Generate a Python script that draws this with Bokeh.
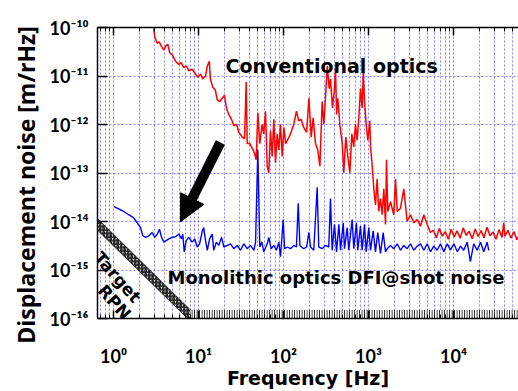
from bokeh.plotting import figure
from bokeh.models import Range1d, FixedTicker, LogAxis, Label, Arrow, NormalHead
from bokeh.embed import file_html
from bokeh.resources import INLINE

# ---------------- data ----------------
x_ticks = [1, 10, 100, 1000, 10000]
x_tick_labels = ["10⁰", "10¹", "10²", "10³", "10⁴"]
y_ticks = [1e-16, 1e-15, 1e-14, 1e-13, 1e-12, 1e-11, 1e-10]
y_tick_labels = ["10⁻¹⁶", "10⁻¹⁵", "10⁻¹⁴", "10⁻¹³", "10⁻¹²", "10⁻¹¹", "10⁻¹⁰"]

# Conventional optics (red)
red_f = [2.96, 3.06, 3.27, 3.45, 3.67, 3.91, 4.12, 4.35, 4.59, 4.91,
         5.36, 5.87, 6.25, 6.71, 7.22, 7.69, 8.43, 9.22, 9.82, 10.6,
         11.2, 12.1, 12.7, 13.4, 13.8, 14.7, 15.8, 16.6, 17.8, 19.0,
         20.2, 21.3, 22.7, 24.4, 26.0, 28.0, 29.8, 32.7, 34.8, 36.4,
         37.4, 40.2, 42.9, 45.6, 47.7, 49.9, 52.6, 56.1, 58.6, 61.4,
         64.3, 67.1, 70.3, 73.6, 76.9, 80.5, 84.3, 88.1, 92.2, 96.6,
         101, 106, 111, 121, 132, 142, 151, 161, 173, 187,
         199, 212, 223, 238, 253, 268, 285, 298, 315, 327,
         345, 357, 377, 398, 409, 421, 436, 460, 491, 512,
         541, 571, 603, 637, 671, 703, 736, 769, 805, 843,
         867, 898, 946, 982, 1035, 1056, 1107, 1154, 1208, 1265,
         1321, 1384, 1449, 1514, 1585, 1629, 1687, 1815, 1985, 2080,
         2178, 2378, 2600, 2851, 3119, 3412, 3741, 4093, 4477, 4909, 5358,
         5.8e3, 6.3e3, 6.8e3, 7.4e3, 8.0e3, 8.7e3, 9.4e3, 1.02e4, 1.1e4, 1.2e4,
         1.3e4, 1.41e4, 1.53e4, 1.66e4, 1.8e4, 1.95e4, 2.11e4, 2.29e4, 2.48e4, 2.69e4,
         2.92e4, 3.16e4, 3.43e4, 3.72e4, 3.9e4, 4.03e4, 4.37e4, 4.74e4, 5.14e4, 5.57e4,
         6.0e4]
red_v = [9.55e-11, 6.4e-11, 4.72e-11, 5.08e-11, 4.04e-11, 3.47e-11, 4.17e-11, 4.51e-11, 2.98e-11, 2.75e-11,
         2.02e-11, 1.74e-11, 1.88e-11, 1.49e-11, 1.61e-11, 1.28e-11, 1.38e-11, 1.10e-11, 9.42e-12, 1.10e-11,
         8.71e-12, 1.01e-11, 1.61e-11, 2.02e-11, 8.71e-12, 5.94e-12, 5.08e-12, 3.21e-12, 2.98e-12, 3.47e-12,
         4.04e-12, 2.19e-12, 1.61e-12, 1.28e-12, 9.42e-13, 1.01e-12, 6.92e-13, 5.5e-13, 5.08e-13, 7.48e-12,
         4.04e-13, 4.04e-13, 3.21e-13, 2.55e-13, 1.88e-13, 1.74e-12, 4.04e-13, 1.01e-12, 6.4e-13, 1.88e-12,
         1.38e-13, 1.01e-13, 7.48e-13, 2.19e-13, 1.28e-12, 1.61e-13, 6.4e-13, 2.98e-13, 1.01e-12, 2.19e-13,
         8.71e-13, 4.04e-13, 4.72e-13, 6.4e-13, 1.01e-12, 1.88e-12, 1.19e-12, 1.28e-12, 8.71e-13, 6.92e-13,
         3.47e-12, 5.5e-13, 1.38e-12, 4.04e-13, 2.98e-13, 1.38e-13, 2.98e-12, 1.01e-12, 4.72e-12, 1.61e-11,
         5.5e-12, 8.71e-12, 2.19e-12, 5.5e-12, 1.49e-11, 1.61e-12, 3.47e-12, 1.01e-12, 4.04e-13, 1.01e-13,
         5.5e-13, 2.19e-13, 1.01e-13, 6.4e-13, 3.47e-13, 1.01e-12, 4.72e-13, 1.38e-12, 5.5e-12, 2.19e-12,
         1.19e-11, 2.98e-12, 8.71e-13, 4.72e-13, 1.19e-12, 3.47e-13, 1.38e-13, 4.72e-14, 2.19e-14, 7.48e-14,
         1.61e-14, 2.98e-14, 1.38e-14, 4.72e-14, 8.71e-15, 1.88e-13, 1.61e-14, 2.55e-14, 1.38e-14, 7.48e-14,
         1.61e-14, 1.88e-14, 4.72e-14, 1.01e-14, 1.38e-14, 9.42e-15, 1.10e-14, 8.05e-15, 1.38e-14, 8.71e-15, 5.94e-15,
         6.6e-15, 4.6e-15, 7.2e-15, 5.0e-15, 6.2e-15, 4.3e-15, 6.9e-15, 4.8e-15, 6.4e-15, 4.5e-15,
         7.4e-15, 5.2e-15, 6.3e-15, 4.4e-15, 7.0e-15, 4.9e-15, 6.5e-15, 4.6e-15, 7.6e-15, 5.1e-15,
         6.1e-15, 4.3e-15, 6.8e-15, 4.7e-15, 9.4e-15, 5.0e-15, 6.6e-15, 4.5e-15, 6.2e-15, 4.2e-15,
         5.6e-15]

# Monolithic optics DFI @ shot noise (blue)
blue_f = [1.01, 1.15, 1.32, 1.51, 1.73, 1.90, 2.08, 2.21, 2.38, 2.60,
          2.85, 3.06, 3.27, 3.48, 3.67, 3.91, 4.17, 4.47, 4.91, 5.36,
          5.87, 6.31, 6.53, 6.79, 7.17, 7.69, 8.43, 9.04, 9.66, 10.3,
          11.1, 11.5, 12.1, 12.7, 13.5, 14.5, 15.1, 16.2, 17.3, 18.7,
          19.9, 21.8, 23.8, 26.0, 28.5, 31.2, 34.1, 37.4, 40.9, 44.8,
          46.9, 49.9, 52.6, 55.6, 58.6, 64.3, 67.1, 71.6, 76.9, 82.7,
          88.1, 92.2, 99.2, 103, 111, 121, 132, 142, 149, 156,
          173, 187, 199, 208, 227, 249, 260, 285, 312, 341,
          357, 374, 398, 421, 448, 469, 504, 522, 561, 586,
          643, 671, 722, 748, 805, 843, 898, 939, 1009, 1056,
          1135, 1208, 1285, 1384, 1489, 1585, 1660, 1815, 1985, 2178,
          2378, 2600, 2851, 3119, 3412, 3741, 4093, 4477, 4909, 5358,
          5861, 6427, 7031, 7691, 8433, 9220, 1.01e4, 1.11e4, 1.21e4, 1.32e4,
          1.45e4, 1.58e4, 1.73e4, 1.90e4, 2.08e4, 2.27e4, 2.49e4, 2.60e4]
blue_v = [2.02e-14, 1.82e-14, 1.61e-14, 1.38e-14, 1.19e-14, 9.42e-15, 7.48e-15, 5.08e-15, 4.72e-15, 5.08e-15,
          5.94e-15, 4.72e-15, 5.5e-15, 6.92e-15, 4.72e-15, 3.75e-15, 4.04e-15, 4.37e-15, 4.72e-15, 4.85e-15,
          5.5e-15, 4.37e-15, 5.5e-15, 2.37e-15, 4.04e-15, 4.72e-15, 3.75e-15, 4.37e-15, 2.98e-15, 3.47e-15,
          6.4e-15, 7.48e-15, 4.04e-15, 2.55e-15, 4.37e-15, 5.5e-15, 2.55e-15, 3.75e-15, 3.21e-15, 4.72e-15,
          2.98e-15, 3.21e-15, 3.47e-15, 2.75e-15, 3.21e-15, 2.55e-15, 3.47e-15, 2.75e-15, 3.21e-15, 2.55e-15,
          3.75e-15, 2.98e-13, 2.98e-15, 3.8e-15, 2.37e-15, 3.47e-15, 4.72e-15, 2.75e-15, 3.21e-15, 2.55e-15,
          3.75e-15, 1.88e-15, 1.10e-14, 2.75e-15, 2.98e-15, 2.75e-15, 3.21e-15, 2.98e-15, 2.37e-14, 3.21e-15,
          2.75e-15, 2.98e-15, 5.94e-15, 2.98e-15, 2.55e-15, 5.08e-14, 2.98e-15, 2.75e-15, 3.21e-15, 2.98e-15,
          2.98e-14, 2.55e-15, 8.71e-15, 2.37e-15, 8.71e-15, 2.55e-15, 9.42e-15, 2.75e-15, 7.48e-15, 2.55e-15,
          1.10e-14, 2.75e-15, 9.42e-15, 2.55e-15, 8.05e-15, 2.55e-15, 8.71e-15, 2.37e-15, 7.48e-15, 2.55e-15,
          6.4e-15, 2.37e-15, 5.94e-15, 2.19e-15, 5.94e-15, 2.37e-15, 2.75e-15, 3.21e-15, 2.75e-15, 3.47e-15,
          2.55e-15, 3.21e-15, 2.75e-15, 3.47e-15, 2.55e-15, 3.1e-15, 3.47e-15, 2.55e-15, 3.47e-15, 2.37e-15,
          3.1e-15, 2.55e-15, 3.47e-15, 2.37e-15, 3.47e-15, 2.6e-15, 3.47e-15, 2.37e-15, 3.1e-15, 2.55e-15,
          3.75e-15, 1.49e-15, 3.47e-15, 2.55e-15, 3.75e-15, 2.37e-15, 3.75e-15, 2.55e-15]

# Target RPN band (diagonal part + flat part)
rpn_diag_f = [0.648, 10.2, 7.42, 0.648]
rpn_diag_v = [1.15e-14, 1e-16, 1e-16, 6.6e-15]
rpn_floor_left = [8.05]
rpn_floor_right = [6.0e4]
rpn_floor_bottom = [1e-16]
rpn_floor_top = [1.5e-16]

# arrow (tail -> head)
arrow_f = [18.1, 6.14]
arrow_v = [4.27e-13, 9.86e-15]

# ---------------- figure ----------------
x_start, x_end = 0.648, 5.82e4
y_start, y_end = 1e-16, 1e-10
FONT = "DejaVu Sans"
TICK_FONT = "Lato"

p = figure(width=518, height=391, title=None,
           x_axis_type="log", y_axis_type="log",
           x_range=Range1d(x_start, x_end), y_range=Range1d(y_start, y_end),
           output_backend="svg", toolbar_location=None,
           min_border_left=97, min_border_right=0,
           min_border_top=27, min_border_bottom=64)
p.outline_line_color = None
p.background_fill_color = "white"
p.border_fill_color = "white"

x_minor = [m * 10.0 ** d for d in range(-1, 5) for m in range(2, 10)]
x_ticker = FixedTicker(ticks=x_ticks, minor_ticks=x_minor)
y_ticker = FixedTicker(ticks=y_ticks, minor_ticks=[])

xa = p.below[0]
ya = p.left[0]
xa.ticker = x_ticker
ya.ticker = y_ticker
top_axis = LogAxis(ticker=x_ticker)
p.add_layout(top_axis, "above")

for ax in [xa, top_axis, ya]:
    ax.major_tick_in = 8
    ax.major_tick_out = 0
    ax.minor_tick_in = 4
    ax.minor_tick_out = 0
    ax.major_tick_line_color = "black"
    ax.minor_tick_line_color = "black"
    ax.major_tick_line_width = 1.5
    ax.axis_line_color = "black"
    ax.axis_line_width = 1.5
ya.major_tick_in = 10

top_axis.major_label_text_color = None
top_axis.major_label_text_font_size = "1px"
top_axis.major_label_standoff = 0

xa.major_label_overrides = dict(zip(x_ticks, x_tick_labels))
xa.major_label_text_font = TICK_FONT
xa.major_label_text_font_style = "bold"
xa.major_label_text_font_size = "18px"
xa.major_label_text_color = "black"
xa.major_label_standoff = 26
xa.axis_label = "Frequency [Hz]"
xa.axis_label_text_font = FONT
xa.axis_label_text_font_style = "bold"
xa.axis_label_text_font_size = "19px"
xa.axis_label_text_color = "black"
xa.axis_label_standoff = -3

ya.major_label_overrides = dict(zip(y_ticks, y_tick_labels))
ya.major_label_text_font = TICK_FONT
ya.major_label_text_font_style = "bold"
ya.major_label_text_font_size = "18px"
ya.major_label_text_color = "black"
ya.major_label_standoff = 9
ya.axis_label = "Displacement noise [m/rHz]\u00a0\u00a0\u00a0\u00a0"
ya.axis_label_text_font = "Open Sans"
ya.axis_label_text_font_style = "bold"
ya.axis_label_text_font_size = "23px"
ya.axis_label_text_color = "black"
ya.axis_label_standoff = 5

grid_col = "#5a5aff"
p.xgrid.ticker = x_ticker
p.xgrid.grid_line_color = grid_col
p.xgrid.grid_line_alpha = 0.75
p.xgrid.grid_line_dash = "2 2"
p.xgrid.minor_grid_line_color = grid_col
p.xgrid.minor_grid_line_alpha = 0.75
p.xgrid.minor_grid_line_dash = "2 2"
p.ygrid.ticker = y_ticker
p.ygrid.grid_line_color = grid_col
p.ygrid.grid_line_alpha = 0.75
p.ygrid.grid_line_dash = "2 2"

# RPN band
p.patch(rpn_diag_f, rpn_diag_v, fill_color="white", hatch_pattern="/",
        hatch_color="black", hatch_scale=3.5, hatch_weight=1.3,
        line_color="black", line_width=0.6)
p.quad(left=rpn_floor_left, right=rpn_floor_right, bottom=rpn_floor_bottom,
       top=rpn_floor_top, fill_color="white", hatch_pattern="|",
       hatch_color="black", hatch_scale=2.5, hatch_weight=1.0, line_color=None)

# curves
p.line(red_f, red_v, line_color="#ff0000", line_width=1.5)
p.line(blue_f, blue_v, line_color="#0000ff", line_width=1.4)

# arrow
p.add_layout(Arrow(end=NormalHead(size=26, fill_color="black", line_color="black"),
                   x_start=arrow_f[0], y_start=arrow_v[0],
                   x_end=arrow_f[1], y_end=arrow_v[1],
                   line_width=10, line_color="black"))

p.add_layout(Label(x=20.8, y=1.58e-11, text="Conventional optics",
                   text_align="left", text_baseline="alphabetic", text_color="black",
                   text_font=FONT, text_font_style="bold", text_font_size="19px"))
p.add_layout(Label(x=4.32, y=6.9e-16, text="Monolithic optics DFI@shot noise",
                   text_align="left", text_baseline="alphabetic", text_color="black",
                   text_font=FONT, text_font_style="bold", text_font_size="18px"))
p.add_layout(Label(x=1.0, y=1.26e-15, x_offset=4, y_offset=-12, text="Target", angle=-0.85,
                   text_align="center", text_baseline="middle", text_color="black",
                   text_font=FONT, text_font_style="bold", text_font_size="17px"))
p.add_layout(Label(x=0.973, y=2.51e-16, x_offset=2, y_offset=-3, text="RPN", angle=-0.85,
                   text_align="center", text_baseline="middle", text_color="black",
                   text_font=FONT, text_font_style="bold", text_font_size="17px"))

open("out.html", "w").write(file_html(p, INLINE))
